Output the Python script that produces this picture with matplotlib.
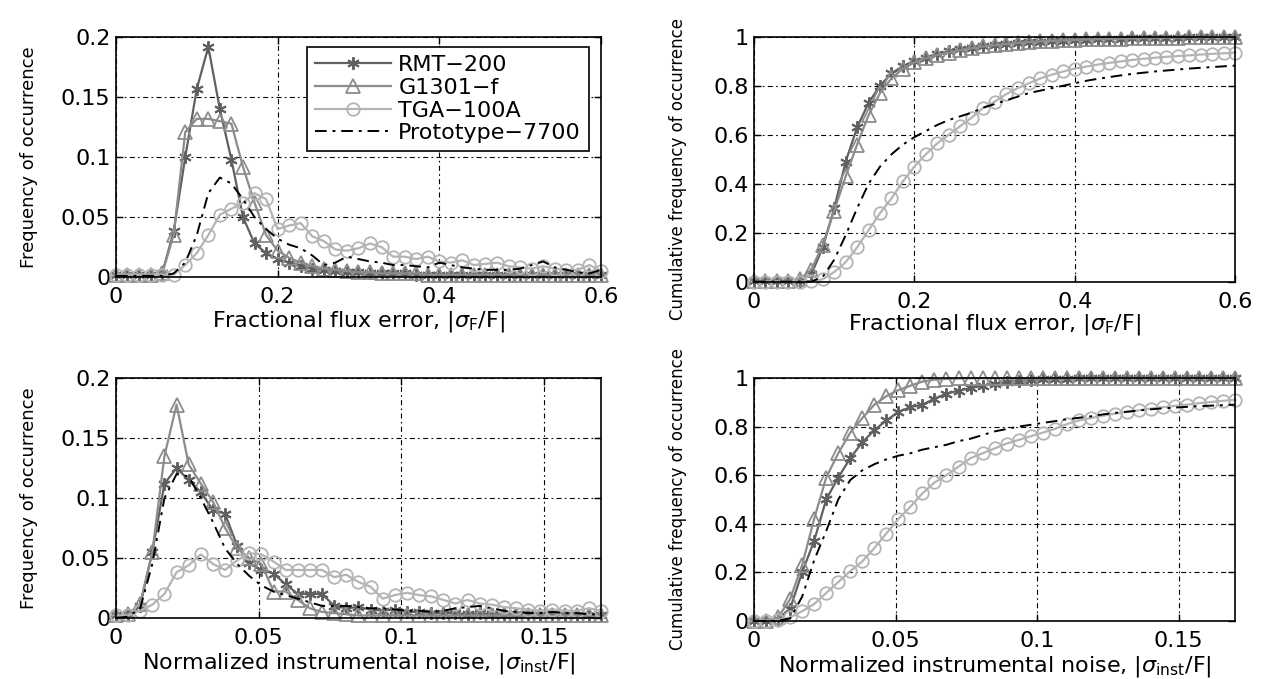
import numpy as np
import matplotlib
matplotlib.use('Agg')
import matplotlib.pyplot as plt
from matplotlib.ticker import FormatStrFormatter

# bin centres
x_flux = np.linspace(0, 0.6, 43)
x_noise = np.linspace(0, 0.17, 41)

names = ['RMT\u2212200', 'G1301\u2212f', 'TGA\u2212100A', 'Prototype\u22127700']

# fractional flux error, frequency
rmt_flux_freq = [.002, .002, .002, .002, .003, .038, .100, .157, .192, .140, .098, .050, .028, .020, .015,
                 .012, .009, .007, .006, .005, .004, .004, .003, .003, .003, .003, .002, .002, .002, .002,
                 .002, .002, .002, .002, .002, .002, .002, .002, .002, .002, .002, .002, .002]
g1301_flux_freq = [.002, .002, .002, .002, .003, .035, .121, .132, .132, .130, .128, .092, .062, .035, .022,
                   .016, .012, .009, .007, .006, .005, .004, .004, .003, .003, .003, .003, .002, .002, .002,
                   .002, .002, .002, .002, .002, .002, .002, .002, .002, .002, .002, .002, .002]
tga_flux_freq = [.002, .002, .002, .002, .002, .002, .010, .020, .035, .052, .057, .062, .070, .065, .040,
                 .043, .045, .034, .030, .023, .022, .024, .028, .025, .017, .017, .015, .017, .013, .012,
                 .014, .010, .011, .012, .009, .008, .007, .009, .007, .006, .006, .010, .005]
proto_flux_freq = [.001, .001, .001, .001, .001, .003, .012, .035, .070, .083, .078, .065, .050, .040, .032,
                   .027, .024, .018, .010, .012, .017, .015, .013, .012, .010, .010, .009, .008, .012, .010,
                   .008, .007, .006, .006, .006, .007, .010, .013, .008, .006, .004, .003, .006]

# fractional flux error, cumulative
rmt_flux_cum = [.002, .002, .002, .003, .005, .030, .140, .300, .490, .630, .730, .800, .850, .880, .900,
                .915, .930, .940, .950, .955, .960, .965, .970, .975, .978, .980, .982, .984, .986, .988,
                .990, .991, .992, .993, .994, .995, .996, .996, .997, .997, .998, .998, .998]
g1301_flux_cum = [.002, .002, .002, .004, .010, .050, .150, .290, .430, .560, .680, .770, .830, .870, .895,
                  .912, .925, .935, .945, .953, .960, .965, .970, .974, .978, .981, .983, .985, .987, .989,
                  .990, .991, .992, .993, .994, .995, .996, .996, .997, .997, .998, .998, .999]
tga_flux_cum = [.001, .001, .001, .001, .001, .002, .010, .040, .080, .140, .210, .280, .340, .410, .470,
                .520, .565, .600, .635, .670, .710, .735, .765, .790, .810, .830, .845, .858, .870, .878,
                .886, .893, .899, .905, .910, .914, .918, .921, .924, .927, .930, .932, .935]
proto_flux_cum = [.001, .001, .001, .001, .001, .001, .020, .090, .190, .300, .400, .470, .520, .560, .590,
                  .615, .640, .660, .675, .690, .710, .725, .740, .755, .770, .780, .790, .800, .810, .820,
                  .828, .835, .842, .848, .853, .858, .862, .866, .870, .873, .876, .879, .882]

# normalized instrumental noise, frequency
rmt_noise_freq = [.002, .003, .010, .055, .112, .125, .115, .105, .090, .087, .060, .046, .040, .037, .028,
                  .020, .020, .020, .010, .008, .009, .007, .006, .007, .005, .005, .004, .004, .004, .003,
                  .004, .003, .003, .003, .003, .002, .003, .002, .002, .002, .002]
g1301_noise_freq = [.002, .003, .012, .055, .135, .178, .128, .112, .097, .075, .058, .050, .045, .022, .022,
                    .015, .008, .005, .004, .003, .002, .002, .002, .002, .002, .002, .002, .002, .002, .002,
                    .002, .002, .002, .002, .002, .002, .002, .002, .002, .002, .002]
tga_noise_freq = [.002, .002, .006, .011, .020, .038, .044, .053, .045, .040, .048, .054, .053, .047, .040,
                  .040, .040, .040, .034, .036, .030, .026, .016, .019, .021, .019, .018, .015, .012, .015,
                  .012, .011, .009, .008, .007, .006, .007, .006, .006, .008, .006]
proto_noise_freq = [.000, .001, .008, .045, .100, .120, .118, .100, .080, .058, .045, .035, .027, .022, .019,
                    .016, .013, .010, .010, .010, .009, .008, .008, .007, .006, .006, .005, .006, .008, .009,
                    .010, .008, .006, .005, .004, .004, .005, .004, .004, .003, .003]

# normalized instrumental noise, cumulative
rmt_noise_cum = [.000, .002, .010, .050, .200, .330, .500, .590, .670, .735, .785, .825, .860, .880, .890,
                 .915, .935, .948, .958, .968, .975, .982, .987, .991, .994, .996, .997, .998, .998, .999,
                 .999, .999, .999, .999, .999, .999, .999, .999, .999, .999, .999]
g1301_noise_cum = [.000, .002, .015, .090, .230, .420, .590, .690, .775, .835, .890, .925, .950, .968, .985,
                   .993, .996, .998, .999, .999, .999, .999, .999, .999, .999, .999, .999, .999, .999, .999,
                   .999, .999, .999, .999, .999, .999, .999, .999, .999, .999, .999]
tga_noise_cum = [.000, .001, .005, .015, .040, .070, .115, .160, .205, .245, .300, .360, .420, .470, .525,
                 .570, .600, .635, .670, .690, .710, .730, .745, .760, .775, .790, .810, .825, .835, .845,
                 .853, .860, .867, .874, .880, .885, .890, .896, .901, .906, .910]
proto_noise_cum = [.000, .000, .002, .010, .100, .250, .370, .500, .580, .620, .645, .665, .680, .690, .705,
                   .715, .725, .740, .750, .765, .780, .790, .800, .807, .815, .822, .830, .836, .842, .850,
                   .856, .861, .866, .871, .875, .878, .881, .884, .886, .888, .890]

styles = [
    dict(color='#606060', marker=(6, 2, 0), ms=9, mew=1.4, lw=1.6),
    dict(color='#8c8c8c', marker='^', ms=10, mfc='none', mew=1.3, lw=1.6),
    dict(color='#b4b4b4', marker='o', ms=9, mfc='none', mew=1.3, lw=1.6),
    dict(color='k', ls=(0, (6, 3, 1.5, 3)), lw=1.4),
]

plt.rcParams['font.family'] = 'DejaVu Sans'

fig = plt.figure(figsize=(12.63, 6.79), dpi=100)

grid_ls = (0, (4.5, 3, 1.5, 3))


def panel(rect, x, ys, xmax, xticks, yticks, xlabel, ylabel, ylab_xy, xlab_y, ylab_size=13):
    ax = fig.add_axes(rect)
    for y, name, st in zip(ys, names, styles):
        ax.plot(x, y, label=name, clip_on=False, **st)
    ax.set_xlim(0, xmax)
    ax.set_ylim(0, yticks[-1])
    ax.set_xticks(xticks)
    ax.set_yticks(yticks)
    ax.xaxis.set_major_formatter(FormatStrFormatter('%g'))
    ax.yaxis.set_major_formatter(FormatStrFormatter('%g'))
    ax.tick_params(direction='in', length=5, width=1, top=True, right=True, labelsize=16)
    ax.tick_params(axis='x', pad=7)
    ax.tick_params(axis='y', pad=4)
    ax.grid(True, color='k', ls=grid_ls, lw=0.8)
    ax.set_axisbelow(True)
    for s in ax.spines.values():
        s.set_linewidth(1.2)
    ax.set_xlabel(xlabel, fontsize=16)
    ax.set_ylabel(ylabel, fontsize=ylab_size)
    ax.yaxis.set_label_coords(*ylab_xy)
    ax.xaxis.set_label_coords(0.5, xlab_y)
    return ax


flux_lab = r'Fractional flux error, |$\sigma_{\rm F}$/F|'
noise_lab = r'Normalized instrumental noise, |$\sigma_{\rm inst}$/F|'

ax1 = panel([0.0918, 0.592, 0.384, 0.353], x_flux,
            [rmt_flux_freq, g1301_flux_freq, tga_flux_freq, proto_flux_freq],
            0.6, [0, 0.2, 0.4, 0.6], [0, 0.05, 0.1, 0.15, 0.2],
            flux_lab, 'Frequency of occurrence', (-0.16, 0.5), -0.135)
ax2 = panel([0.597, 0.585, 0.381, 0.361], x_flux,
            [rmt_flux_cum, g1301_flux_cum, tga_flux_cum, proto_flux_cum],
            0.6, [0, 0.2, 0.4, 0.6], [0, 0.2, 0.4, 0.6, 0.8, 1],
            flux_lab, 'Cumulative frequency of occurrence', (-0.14, 0.46), -0.125, 12)
ax3 = panel([0.0918, 0.09, 0.384, 0.353], x_noise,
            [rmt_noise_freq, g1301_noise_freq, tga_noise_freq, proto_noise_freq],
            0.17, [0, 0.05, 0.1, 0.15], [0, 0.05, 0.1, 0.15, 0.2],
            noise_lab, 'Frequency of occurrence', (-0.16, 0.5), -0.14)
ax4 = panel([0.597, 0.0854, 0.381, 0.358], x_noise,
            [rmt_noise_cum, g1301_noise_cum, tga_noise_cum, proto_noise_cum],
            0.17, [0, 0.05, 0.1, 0.15], [0, 0.2, 0.4, 0.6, 0.8, 1],
            noise_lab, 'Cumulative frequency of occurrence', (-0.14, 0.5), -0.135, 12)

leg = ax1.legend(loc='upper right', bbox_to_anchor=(0.975, 0.958), borderaxespad=0,
                 fontsize=16, numpoints=1, handlelength=3.4, handletextpad=0.35,
                 labelspacing=0.12, borderpad=0.35, fancybox=False, framealpha=1,
                 edgecolor='k')
leg.get_frame().set_linewidth(1.2)

fig.savefig('out.png', dpi=100)
